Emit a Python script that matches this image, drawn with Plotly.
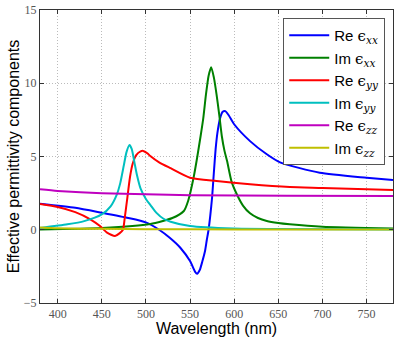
import plotly.graph_objects as go

# wavelength samples (nm) and estimated values for each component
wl_re_xx = [380, 420, 450, 480, 500, 515, 527, 539, 550, 556, 558, 561, 564, 567, 569, 571, 573, 575, 577, 579, 581, 584, 587, 590, 594, 600, 618, 637, 652, 697, 750, 780]
re_xx = [1.78, 1.5, 1.16, 0.8, 0.5, 0.0, -0.55, -1.23, -2.14, -2.9, -3.0, -2.75, -2.15, -1.45, -0.7, 0.0, 1.0, 2.2, 3.9, 5.5, 6.6, 7.6, 8.05, 8.1, 7.8, 7.2, 6.05, 5.15, 4.6, 3.89, 3.55, 3.39]

wl_im_xx = [380, 450, 505, 530, 543, 548, 554, 558, 562, 565, 568, 571, 574, 577, 580, 583, 586, 589, 592, 597, 603, 610, 618, 627, 637, 650, 663, 700, 780]
im_xx = [0.02, 0.12, 0.39, 0.8, 1.28, 2.0, 3.55, 4.9, 6.4, 7.6, 9.2, 10.5, 11.1, 10.4, 9.26, 7.9, 6.4, 5.4, 4.69, 3.3, 2.42, 1.65, 1.12, 0.8, 0.6, 0.46, 0.37, 0.2, 0.08]

wl_re_yy = [380, 400, 420, 437, 448, 456, 465, 470, 474, 476, 479, 482, 485, 489, 494, 497, 502, 505, 515, 528, 550, 580, 618, 663, 700, 780]
re_yy = [1.75, 1.55, 1.2, 0.71, 0.25, -0.2, -0.43, -0.25, 0.0, 0.8, 2.2, 3.6, 4.5, 5.1, 5.35, 5.38, 5.2, 5.03, 4.6, 4.2, 3.55, 3.32, 3.1, 2.91, 2.85, 2.71]

wl_im_yy = [380, 411, 430, 450, 460, 467, 471, 475, 478, 481.5, 484, 487, 490, 494, 500, 505, 512, 520, 528, 550, 599, 650, 780]
im_yy = [0.12, 0.37, 0.59, 1.05, 1.6, 2.4, 3.2, 4.4, 5.3, 5.78, 5.5, 4.6, 3.7, 2.8, 2.1, 1.7, 1.15, 0.75, 0.55, 0.25, 0.08, 0.05, 0.02]

wl_zz = [380, 400, 450, 500, 550, 660, 780]
re_zz = [2.76, 2.65, 2.5, 2.42, 2.36, 2.32, 2.3]
im_zz = [0.15, 0.1, 0.06, 0.04, 0.03, 0.02, 0.02]

xticks = [400, 450, 500, 550, 600, 650, 700, 750]
yticks = [-5, 0, 5, 10, 15]
ytick_text = ["\u22125", "0", "5", "10", "15"]

eps = '<span style="font-family:DejaVu Serif">\u03f5</span>'
series = [
    ("Re", "xx", wl_re_xx, re_xx, "#0000ff"),
    ("Im", "xx", wl_im_xx, im_xx, "#008000"),
    ("Re", "yy", wl_re_yy, re_yy, "#ff0000"),
    ("Im", "yy", wl_im_yy, im_yy, "#00bfbf"),
    ("Re", "zz", wl_zz, re_zz, "#bf00bf"),
    ("Im", "zz", wl_zz, im_zz, "#bfbf00"),
]

fig = go.Figure()
for part, sub, x, y, col in series:
    name = part + " " + eps + '<sub><span style="font-family:DejaVu Serif"><i>' + sub + '</i></span></sub>'
    fig.add_trace(go.Scatter(x=x, y=y, mode="lines", name=name,
                             line=dict(color=col, width=2, shape="spline", smoothing=0.6)))

axis_common = dict(showline=True, linecolor="#333333", linewidth=1, mirror="ticks",
                   ticks="inside", ticklen=4, tickcolor="#333333",
                   showgrid=True, gridcolor="#bbbbbb", griddash="1px,2px", gridwidth=1,
                   zeroline=False, automargin=False,
                   tickfont=dict(family="Liberation Serif", size=12, color="#555555"))

fig.update_layout(
    width=399, height=337,
    margin=dict(l=40, r=6, t=10, b=34),
    plot_bgcolor="white", paper_bgcolor="white",
    xaxis=dict(range=[380, 780], tickvals=xticks,
               title=dict(text="Wavelength (nm)", font=dict(family="Liberation Sans", size=16, color="black"), standoff=1),
               **axis_common),
    yaxis=dict(range=[-5, 15], tickvals=yticks, ticktext=ytick_text,
               title=dict(text="Effective permittivity components", font=dict(family="Liberation Sans", size=16, color="black"), standoff=0),
               **axis_common),
    legend=dict(x=0.978, y=0.973, xanchor="right", yanchor="top",
                bgcolor="white", bordercolor="#555555", borderwidth=1,
                font=dict(family="Liberation Sans", size=15, color="black"),
                itemwidth=40, tracegroupgap=0),
    showlegend=True,
)

# drop the default 8px body margin so the figure fills the window
fig.write_html("out.html", config={"displayModeBar": False},
               post_script="document.body.style.margin='0';")
